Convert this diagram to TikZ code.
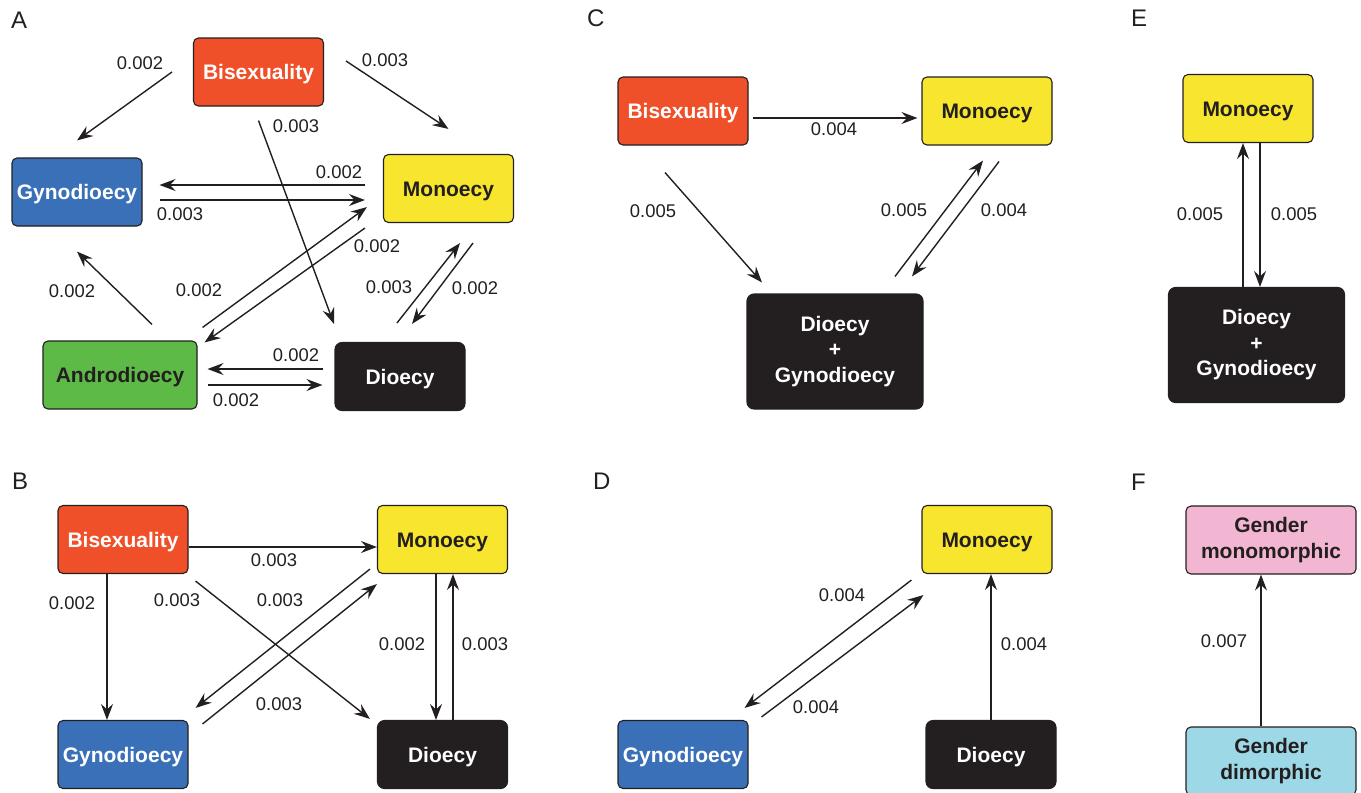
\documentclass[tikz,border=0pt]{standalone}
\usepackage{fontspec}
\setmainfont{Liberation Sans}
\usetikzlibrary{arrows.meta,calc}
\definecolor{ink}{RGB}{35,31,32}
\definecolor{bisred}{RGB}{240,80,41}
\definecolor{gynblue}{RGB}{58,112,183}
\definecolor{monyel}{RGB}{247,230,45}
\definecolor{andgreen}{RGB}{94,186,70}
\definecolor{monopink}{RGB}{242,182,210}
\definecolor{dimoblue}{RGB}{157,216,230}
\begin{document}
\begin{tikzpicture}[x=1pt,y=-1pt,
	box/.style={draw=ink, line width=1.1pt, rounded corners=5pt, inner sep=0pt, minimum width=130pt, minimum height=68pt, text height=15pt, text depth=0pt, font=\fontsize{21}{25.5}\selectfont\bfseries},
	bigbox/.style={draw=ink, line width=1.1pt, rounded corners=7pt, inner sep=0pt, minimum width=176pt, minimum height=115pt, align=center, font=\fontsize{21}{25.5}\selectfont\bfseries},
	rate/.style={inner sep=0pt, text=ink, font=\fontsize{18.4}{22}\selectfont},
	panel/.style={anchor=north west, inner sep=0pt, text=ink, font=\fontsize{24}{28}\selectfont},
	arr/.style={draw=ink, line width=1.4pt, -{Stealth[length=16pt,width=12pt,inset=5.5pt]}}]
	\useasboundingbox (0,0) rectangle (1361,793);
	
	%Panel A
	\node[panel] (labA) at (11,12) {A};
	\node[box, fill=bisred, text=white] (bisA) at (258.5,72) {Bisexuality};
	\node[box, fill=gynblue, text=white] (gynA) at (77,192) {Gynodioecy};
	\node[box, fill=monyel, text=ink] (monA) at (448.5,188.5) {Monoecy};
	\node[box, fill=andgreen, text=ink, minimum width=154pt] (andA) at (120,375) {Androdioecy};
	\node[box, fill=ink, text=white, rounded corners=7pt] (dioA) at (400,376.5) {Dioecy};
	%Arrows A
	\draw[arr] ($(bisA.west)+(-21,0)$) -- ($(gynA.north)+(0,-17)$);
	\draw[arr] ($(bisA.east)+(22,-11)$) -- ($(monA.north)+(0,-25)$);
	\draw[arr] ($(bisA.south)+(0,14)$) -- ($(dioA.north)+(-66,-18)$);
	\draw[arr] ($(monA.west)+(-18,-3.5)$) -- ($(gynA.east)+(17,-7)$);
	\draw[arr] ($(gynA.east)+(17,8)$) -- ($(monA.west)+(-18,11.5)$);
	\draw[arr] ($(andA.north east)+(5,-13)$) -- ($(monA.south west)+(-16,-16)$);
	\draw[arr] ($(monA.south west)+(-18,5)$) -- ($(andA.north east)+(7,2)$);
	\draw[arr] ($(andA.north)+(32,-16)$) -- ($(gynA.south)+(0,25)$);
	\draw[arr] ($(dioA.north)+(-3,-19)$) -- ($(monA.south)+(11.5,20)$);
	\draw[arr] ($(monA.south)+(24.5,20)$) -- ($(dioA.north)+(12,-18)$);
	\draw[arr] ($(dioA.west)+(-11,-7.5)$) -- ($(andA.east)+(10,-6)$);
	\draw[arr] ($(andA.east)+(10,10)$) -- ($(dioA.west)+(-12,8.5)$);
	% Text Node
	\node[rate] (rA1) at (140,63) {0.002};
	\node[rate] (rA2) at (385,60) {0.003};
	\node[rate] (rA3) at (296,126) {0.003};
	\node[rate] (rA4) at (339,172) {0.002};
	\node[rate] (rA5) at (180,214) {0.003};
	\node[rate] (rA6) at (199,290) {0.002};
	\node[rate] (rA7) at (377,246) {0.002};
	\node[rate] (rA8) at (72,291) {0.002};
	\node[rate] (rA9) at (389,287) {0.003};
	\node[rate] (rA10) at (475,288) {0.002};
	\node[rate] (rA11) at (296,355) {0.002};
	\node[rate] (rA12) at (236,400) {0.002};
	
	%Panel B
	\node[panel] (labB) at (12,473) {B};
	\node[box, fill=bisred, text=white] (bisB) at (123,539.5) {Bisexuality};
	\node[box, fill=monyel, text=ink] (monB) at (442.5,539.5) {Monoecy};
	\node[box, fill=gynblue, text=white] (gynB) at (123,754.5) {Gynodioecy};
	\node[box, fill=ink, text=white, rounded corners=7pt] (dioB) at (442.5,754.5) {Dioecy};
	%Arrows B
	\draw[arr] ($(bisB.east)+(0,7.5)$) -- ($(monB.west)+(0,7.5)$);
	\draw[arr] ($(bisB.south)+(-16,0)$) -- ($(gynB.north)+(-16,0)$);
	\draw[arr] ($(bisB.south east)+(7,7)$) -- ($(dioB.north west)+(-7,-1)$);
	\draw[arr] ($(monB.south west)+(-7,-5)$) -- ($(gynB.north east)+(7,-12)$);
	\draw[arr] ($(gynB.north east)+(14,4)$) -- ($(monB.south west)+(0,10)$);
	\draw[arr] ($(monB.south)+(-6.5,0)$) -- ($(dioB.north)+(-6.5,0)$);
	\draw[arr] ($(dioB.north)+(10.5,0)$) -- ($(monB.south)+(10.5,0)$);
	% Text Node
	\node[rate] (rB1) at (274,560) {0.003};
	\node[rate] (rB2) at (72,603) {0.002};
	\node[rate] (rB3) at (177,600) {0.003};
	\node[rate] (rB4) at (280,600) {0.003};
	\node[rate] (rB5) at (279,704) {0.003};
	\node[rate] (rB6) at (402,644) {0.002};
	\node[rate] (rB7) at (485,644) {0.003};
	
	%Panel C
	\node[panel] (labC) at (587,10) {C};
	\node[box, fill=bisred, text=white] (bisC) at (683,111) {Bisexuality};
	\node[box, fill=monyel, text=ink] (monC) at (987,111) {Monoecy};
	\node[bigbox, fill=ink, text=white] (dgC) at (835,351.5) {Dioecy\\+\\Gynodioecy};
	%Arrows C
	\draw[arr] ($(bisC.east)+(4,7)$) -- ($(monC.west)+(-4,7)$);
	\draw[arr] ($(bisC.south)+(-18,27)$) -- ($(dgC.north)+(-73,-11)$);
	\draw[arr] ($(dgC.north)+(60,-17)$) -- ($(monC.south)+(-4,15)$);
	\draw[arr] ($(monC.south)+(12,16)$) -- ($(dgC.north)+(77,-17)$);
	% Text Node
	\node[rate] (rC1) at (834,129) {0.004};
	\node[rate] (rC2) at (653,211) {0.005};
	\node[rate] (rC3) at (904,210) {0.005};
	\node[rate] (rC4) at (1004,210) {0.004};
	
	%Panel D
	\node[panel] (labD) at (593,473) {D};
	\node[box, fill=monyel, text=ink] (monD) at (987,539.5) {Monoecy};
	\node[box, fill=gynblue, text=white] (gynD) at (683,754.5) {Gynodioecy};
	\node[box, fill=ink, text=white, rounded corners=7pt] (dioD) at (991,754.5) {Dioecy};
	%Arrows D
	\draw[arr] ($(monD.south west)+(-10,6)$) -- ($(gynD.north east)+(-4,-12)$);
	\draw[arr] ($(gynD.north east)+(13,-3)$) -- ($(monD.south west)+(2,21)$);
	\draw[arr] (dioD.north) -- ($(monD.south)+(4,0)$);
	% Text Node
	\node[rate] (rD1) at (842,595) {0.004};
	\node[rate] (rD2) at (816,707) {0.004};
	\node[rate] (rD3) at (1024,644) {0.004};
	
	%Panel E
	\node[panel] (labE) at (1131,10) {E};
	\node[box, fill=monyel, text=ink] (monE) at (1248,108.5) {Monoecy};
	\node[bigbox, fill=ink, text=white] (dgE) at (1256.5,345) {Dioecy\\+\\Gynodioecy};
	%Arrows E
	\draw[arr] ($(dgE.north)+(-13.5,0)$) -- ($(monE.south)+(-5,0)$);
	\draw[arr] ($(monE.south)+(12,0)$) -- ($(dgE.north)+(3.5,0)$);
	% Text Node
	\node[rate] (rE1) at (1200,214) {0.005};
	\node[rate] (rE2) at (1294,214) {0.005};
	
	%Panel F
	\node[panel] (labF) at (1131,474) {F};
	\node[bigbox, fill=monopink, text=ink, rounded corners=5pt, minimum width=170pt, minimum height=68pt] (monoF) at (1271,540) {Gender\\monomorphic};
	\node[bigbox, fill=dimoblue, text=ink, rounded corners=5pt, minimum width=170pt, minimum height=68pt] (dimoF) at (1271,761) {Gender\\dimorphic};
	%Arrow F
	\draw[arr] ($(dimoF.north)+(-10,0)$) -- ($(monoF.south)+(-10,0)$);
	% Text Node
	\node[rate] (rF1) at (1224,641) {0.007};
	
\end{tikzpicture}
\end{document}
